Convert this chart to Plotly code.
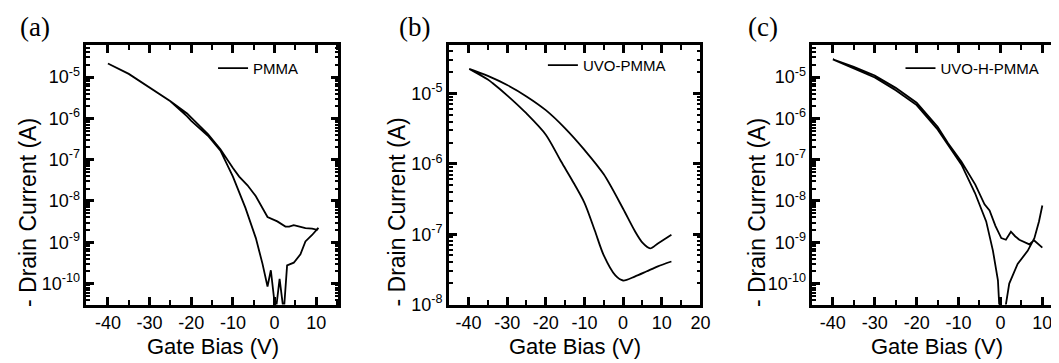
import plotly.graph_objects as go

# ---------------- data ----------------
# (a) PMMA : one closed sweep (upper branch right->left, then lower branch left->right)
a_up_v = [10.5, 10.2, 9.0, 7.4, 6.0, 4.6, 3.5, 2.6, 0.65, -1.7, -4.5, -6.5, -8.5, -10, -13, -16, -20, -21, -25, -30, -35, -40]
a_up_i = [2.24e-9, 2.0e-9, 2.14e-9, 2.2e-9, 2.4e-9, 2.6e-9, 2.4e-9, 2.4e-9, 3.2e-9, 4.1e-9, 1.3e-8, 2.4e-8, 3.9e-8, 6.3e-8, 1.78e-7, 4.2e-7, 1.05e-6, 1.32e-6, 2.6e-6, 5.6e-6, 1.2e-5, 2.14e-5]
a_lo_v = [-40, -35, -30, -25, -21, -20, -16, -13, -10, -7, -4.5, -2.9, -1.7, -0.9, 0.25, 1.2, 2.2, 3.0, 4.6, 6.2, 7.4, 9.0, 10.5]
a_lo_i = [2.14e-5, 1.2e-5, 5.6e-6, 2.6e-6, 1.12e-6, 8.7e-7, 3.8e-7, 1.66e-7, 3.9e-8, 6.8e-9, 1.26e-9, 3.0e-10, 8.5e-11, 2.1e-10, 2.0e-11, 1.3e-10, 2.0e-11, 2.75e-10, 3.2e-10, 5.1e-10, 1.05e-9, 1.5e-9, 2.24e-9]

# (b) UVO-PMMA
b_up_v = [12.5, 9, 7, 5, 3, 0, -5, -10, -15, -20, -25, -30, -35, -39.8]
b_up_i = [9.8e-8, 7.4e-8, 6.3e-8, 7.6e-8, 1.12e-7, 2.3e-7, 7.1e-7, 1.58e-6, 3.2e-6, 5.8e-6, 9.1e-6, 1.32e-5, 1.78e-5, 2.24e-5]
b_lo_v = [-39.8, -35, -33.8, -29.5, -25, -20, -16, -13.3, -10, -7.3, -5, -2, 0, 3, 6, 9, 12.5]
b_lo_i = [2.24e-5, 1.58e-5, 1.41e-5, 8.9e-6, 5.2e-6, 2.6e-6, 1.07e-6, 6.0e-7, 2.8e-7, 1.12e-7, 5.0e-8, 2.6e-8, 2.2e-8, 2.5e-8, 2.95e-8, 3.5e-8, 4.1e-8]

# (c) UVO-H-PMMA
c_up_v = [10, 8.0, 6.9, 4.5, 3.5, 2.5, 1.3, 0.2, -1.2, -2.6, -3.8, -6, -9.3, -12.5, -15, -20, -25, -30, -35, -40]
c_up_i = [7.4e-10, 1.12e-9, 8.9e-10, 1.15e-9, 1.4e-9, 1.8e-9, 1.15e-9, 1.26e-9, 2.5e-9, 5.9e-9, 8.3e-9, 2.5e-8, 8.9e-8, 2.5e-7, 6.3e-7, 2.4e-6, 5.5e-6, 1.1e-5, 1.78e-5, 2.7e-5]
c_lo_v = [-40, -35, -30, -25, -20, -15, -12.5, -9.3, -6.1, -3.4, -1.8, -0.6, -0.2, 1.0, 2.1, 4.1, 6.5, 8.1, 9.2, 10]
c_lo_i = [2.7e-5, 1.62e-5, 9.8e-6, 4.8e-6, 2.1e-6, 5.4e-7, 2.3e-7, 7.6e-8, 1.58e-8, 3.2e-9, 6.3e-10, 1.2e-10, 2.0e-11, 2.0e-11, 1.0e-10, 3.0e-10, 6.2e-10, 1.26e-9, 3.2e-9, 7.8e-9]

x_tickvals_ac = [-40, -30, -20, -10, 0, 10]
x_ticktext_ac = ["-40", "-30", "-20", "-10", "0", "10"]
x_tickvals_b = [-40, -30, -20, -10, 0, 10, 20]
x_ticktext_b = ["-40", "-30", "-20", "-10", "0", "10", "20"]
y_tickvals_ac = [1e-10, 1e-9, 1e-8, 1e-7, 1e-6, 1e-5]
y_ticktext_ac = ["10<sup>-10</sup>", "10<sup>-9</sup>", "10<sup>-8</sup>", "10<sup>-7</sup>", "10<sup>-6</sup>", "10<sup>-5</sup>"]
y_tickvals_b = [1e-8, 1e-7, 1e-6, 1e-5]
y_ticktext_b = ["10<sup>-8</sup>", "10<sup>-7</sup>", "10<sup>-6</sup>", "10<sup>-5</sup>"]

labels = ["PMMA", "UVO-PMMA", "UVO-H-PMMA"]
panel_tags = ["(a)", "(b)", "(c)"]
x_title = "Gate Bias (V)"
y_title = "- Drain Current (A)"

# ---------------- figure ----------------
W, H = 1059, 363
FONT = "Liberation Sans, Arial, sans-serif"
fig = go.Figure()

line = dict(color="black", width=1.8)
fig.add_trace(go.Scatter(x=a_up_v + a_lo_v, y=a_up_i + a_lo_i, mode="lines", line=line,
                         name=labels[0], xaxis="x", yaxis="y", legend="legend"))
fig.add_trace(go.Scatter(x=b_up_v + b_lo_v, y=b_up_i + b_lo_i, mode="lines",
                         line=dict(color="black", width=1.8, shape="spline", smoothing=0.8),
                         name=labels[1], xaxis="x2", yaxis="y2", legend="legend2"))
fig.add_trace(go.Scatter(x=c_up_v + c_lo_v, y=c_up_i + c_lo_i, mode="lines", line=line,
                         name=labels[2], xaxis="x3", yaxis="y3", legend="legend3"))


def xax(dom, rng, tv, tt, anchor, mirror="ticks"):
    return dict(domain=dom, range=rng, anchor=anchor, tickvals=tv, ticktext=tt,
                ticks="inside", ticklen=8, tickwidth=2.5, tickcolor="#000000",
                showline=True, linecolor="#000000", linewidth=2.5, mirror=mirror,
                showgrid=False, zeroline=False,
                minor=dict(ticks="inside", ticklen=5, tickwidth=1.8, tickcolor="#000000",
                           dtick=5, tick0=0, showgrid=False))

def yax(dom, rng, tv, tt, anchor, mirror="ticks"):
    return dict(domain=dom, range=rng, anchor=anchor, type="log", tickvals=tv, ticktext=tt,
                ticks="inside", ticklen=8, tickwidth=2.5, tickcolor="#000000",
                showline=True, linecolor="#000000", linewidth=2.5, mirror=mirror,
                showgrid=False, zeroline=False,
                minor=dict(ticks="inside", ticklen=4, tickwidth=1.5, tickcolor="#000000",
                           dtick="D1", showgrid=False))

ydom = [1 - 305 / H, 1 - 38 / H]
fig.update_layout(
    width=W, height=H, margin=dict(l=0, r=0, t=0, b=0),
    paper_bgcolor="white", plot_bgcolor="white",
    font=dict(family=FONT, size=18, color="black"),
    xaxis=xax([79 / W, 333.5 / W], [-45.2, 15.3], x_tickvals_ac, x_ticktext_ac, "y"),
    yaxis=yax(ydom, [-10.51, -4.22], y_tickvals_ac, y_ticktext_ac, "x"),
    xaxis2=xax([445 / W, 699 / W], [-45.1, 20], x_tickvals_b, x_ticktext_b, "y2"),
    yaxis2=yax(ydom, [-8.0, -4.31], y_tickvals_b, y_ticktext_b, "x2"),
    xaxis3=xax([812 / W, 1.0], [-44.9, 13.5], x_tickvals_ac, x_ticktext_ac, "y3"),
    yaxis3=yax(ydom, [-10.51, -4.22], y_tickvals_ac, y_ticktext_ac, "x3", mirror=False),
    showlegend=True,
)

leg_common = dict(bgcolor="rgba(0,0,0,0)", borderwidth=0, xanchor="left", yanchor="middle",
                  font=dict(family=FONT, size=15, color="black"), itemwidth=30)
fig.update_layout(
    legend=dict(x=207 / W, y=1 - 62 / H, **leg_common),
    legend2=dict(x=540 / W, y=1 - 59 / H, **leg_common),
    legend3=dict(x=901 / W, y=1 - 62 / H, **leg_common),
)

for tag, xc in zip(panel_tags, [27, 410, 762]):
    fig.add_annotation(text=tag, xref="paper", yref="paper", x=xc / W, y=1 - 20 / H,
                       xanchor="center", yanchor="middle", showarrow=False,
                       font=dict(family="Liberation Serif, Times New Roman, serif", size=27, color="black"))

for xc in [20, 393, 756]:
    fig.add_annotation(text=y_title, xref="paper", yref="paper", x=xc / W, y=1 - 210 / H,
                       xanchor="center", yanchor="middle", showarrow=False, textangle=-90,
                       font=dict(family=FONT, size=23, color="black"))

for xc in [207, 572, 938]:
    fig.add_annotation(text=x_title, xref="paper", yref="paper", x=xc / W, y=1 - 348 / H,
                       xanchor="center", yanchor="middle", showarrow=False,
                       font=dict(family=FONT, size=22, color="black"))

fig.write_html("out.html")
